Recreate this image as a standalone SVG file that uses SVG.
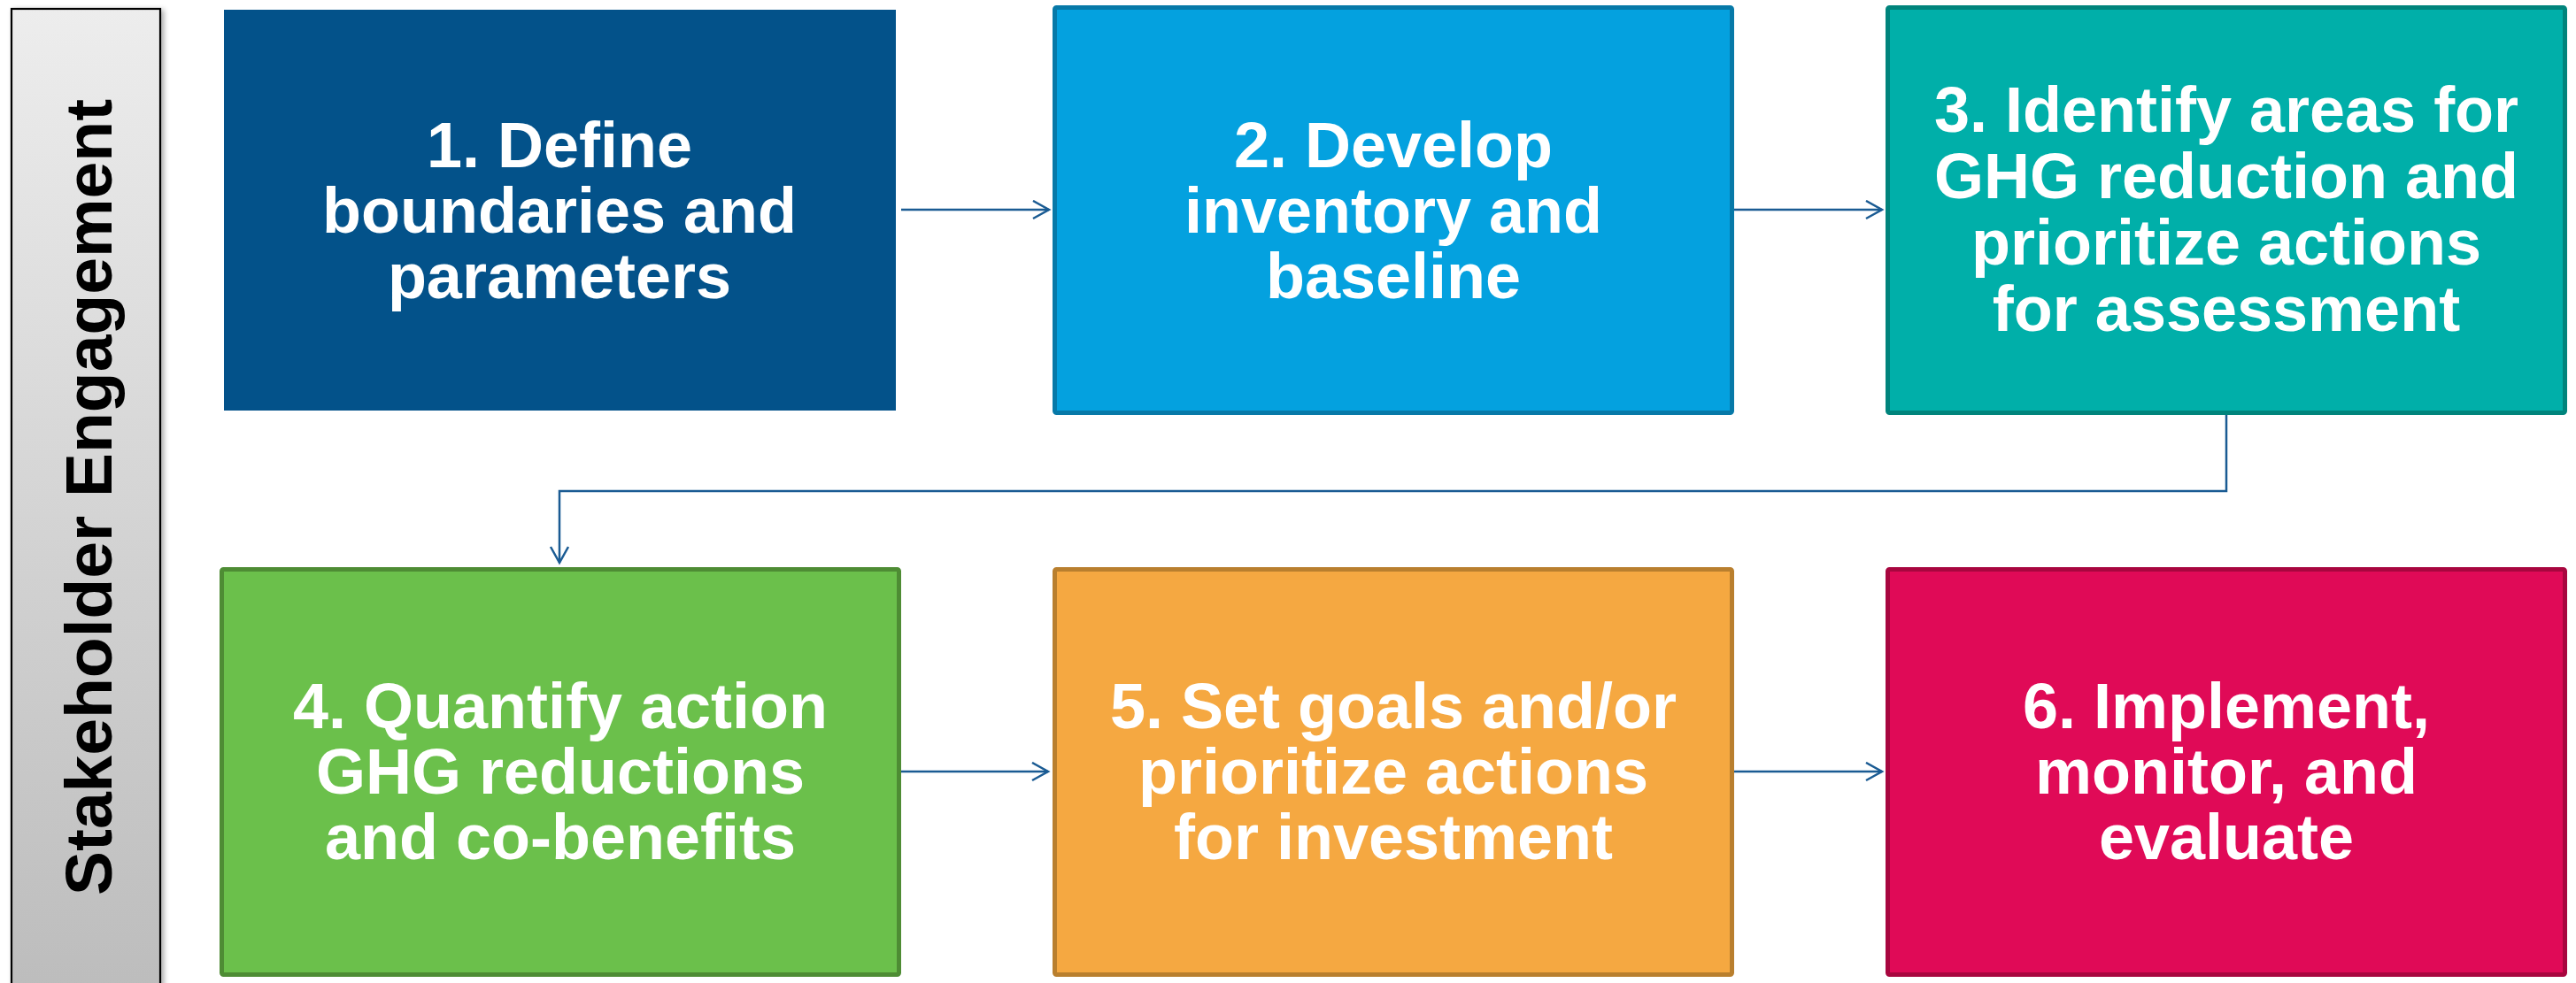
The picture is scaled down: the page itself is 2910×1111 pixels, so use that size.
<svg xmlns="http://www.w3.org/2000/svg" width="2910" height="1111" viewBox="0 0 2910 1111">
  <defs>
    <linearGradient id="sideFill" x1="0" y1="0" x2="0" y2="1">
      <stop offset="0" stop-color="#ededed"/>
      <stop offset="1" stop-color="#bcbcbc"/>
    </linearGradient>
    <filter id="sideShadow" x="-10%" y="-2%" width="130%" height="104%">
      <feGaussianBlur in="SourceAlpha" stdDeviation="3"/>
      <feOffset dx="3" dy="2" result="b"/>
      <feComponentTransfer><feFuncA type="linear" slope="0.35"/></feComponentTransfer>
      <feMerge><feMergeNode/><feMergeNode in="SourceGraphic"/></feMerge>
    </filter>
    <marker id="arrow" markerUnits="userSpaceOnUse" markerWidth="24" markerHeight="26" refX="19" refY="11" orient="auto">
      <path d="M1,1 L19,11 L1,21" fill="none" stroke="#1a5b93" stroke-width="2.5"/>
    </marker>
  </defs>
  <style>
    .step text { font-family: "Liberation Sans", Arial, sans-serif; font-weight: bold; font-size: 72px; fill: #ffffff; text-anchor: middle; }
    .edge { fill: none; stroke: #1a5b93; stroke-width: 2.5; marker-end: url(#arrow); }
    .side-label { font-family: "Liberation Sans", Arial, sans-serif; font-weight: bold; font-size: 75px; fill: #000000; text-anchor: middle; }
  </style>

  <rect width="2910" height="1111" fill="#ffffff"/>

  <!-- Vertical side bar -->
  <g id="stakeholder">
    <rect x="13" y="10" width="168" height="1120" fill="url(#sideFill)" stroke="#000000" stroke-width="2.2" filter="url(#sideShadow)"/>
    <text class="side-label" transform="translate(126 562) rotate(-90)">Stakeholder Engagement</text>
  </g>

  <!-- Process steps -->
  <g id="step1" class="step">
    <rect x="253" y="11" width="759" height="453" fill="#03528a"/>
    <text x="632" y="189">1. Define</text>
    <text x="632" y="263">boundaries and</text>
    <text x="632" y="337">parameters</text>
  </g>

  <g id="step2" class="step">
    <rect x="1191.5" y="8.5" width="765" height="458" rx="2" fill="#04a1df" stroke="#0779a8" stroke-width="5"/>
    <text x="1574" y="189">2. Develop</text>
    <text x="1574" y="263">inventory and</text>
    <text x="1574" y="337">baseline</text>
  </g>

  <g id="step3" class="step">
    <rect x="2132.5" y="8.5" width="765" height="458" rx="2" fill="#00afa9" stroke="#00847c" stroke-width="5"/>
    <text x="2515" y="149">3. Identify areas for</text>
    <text x="2515" y="224">GHG reduction and</text>
    <text x="2515" y="299">prioritize actions</text>
    <text x="2515" y="374">for assessment</text>
  </g>

  <g id="step4" class="step">
    <rect x="250.5" y="643.5" width="765" height="458" rx="2" fill="#6bc04b" stroke="#4e8c34" stroke-width="5"/>
    <text x="633" y="823">4. Quantify action</text>
    <text x="633" y="897">GHG reductions</text>
    <text x="633" y="971">and co-benefits</text>
  </g>

  <g id="step5" class="step">
    <rect x="1191.5" y="643.5" width="765" height="458" rx="2" fill="#f5a841" stroke="#b97f2e" stroke-width="5"/>
    <text x="1574" y="823">5. Set goals and/or</text>
    <text x="1574" y="897">prioritize actions</text>
    <text x="1574" y="971">for investment</text>
  </g>

  <g id="step6" class="step">
    <rect x="2132.5" y="643.5" width="765" height="458" rx="2" fill="#e00a57" stroke="#a8063f" stroke-width="5"/>
    <text x="2515" y="823">6. Implement,</text>
    <text x="2515" y="897">monitor, and</text>
    <text x="2515" y="971">evaluate</text>
  </g>

  <!-- Connectors -->
  <g id="connectors">
    <path class="edge" d="M1018,237 L1185,237"/>
    <path class="edge" d="M1959,237 L2126,237"/>
    <path class="edge" d="M2515,469 L2515,555 L632,555 L632,636"/>
    <path class="edge" d="M1018,872 L1184,872"/>
    <path class="edge" d="M1959,872 L2126,872"/>
  </g>
</svg>
